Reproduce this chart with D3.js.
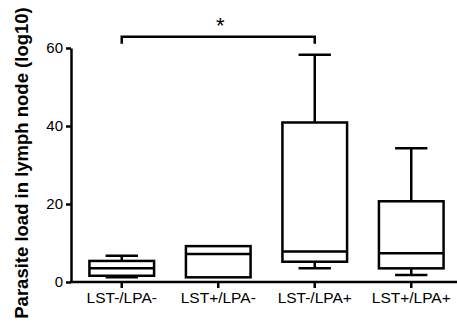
<!DOCTYPE html>
<html>
<head>
<meta charset="utf-8">
<script src="https://cdn.jsdelivr.net/npm/d3@7"></script>
<style>
  body { margin: 0; background: #fff; }
  svg { display: block; font-family: Arial, "Liberation Sans", sans-serif; }
</style>
</head>
<body>
<div id="chart"></div>
<script>
// groups and box stats
var groups = ['LST-/LPA-', 'LST+/LPA-', 'LST-/LPA+', 'LST+/LPA+'];
var mins    = [1.2, 1.2, 3.5, 1.8];
var q1s     = [1.6, 1.2, 5.2, 3.5];
var medians = [3.5, 7.2, 7.8, 7.35];
var q3s     = [5.4, 9.2, 40.9, 20.7];
var maxs    = [6.7, 9.2, 58.3, 34.3];
var yTicks  = [0, 20, 40, 60];

// significance bracket between group 1 and 3
var sigPairs = [{a: 'LST-/LPA-', b: 'LST-/LPA+', level: 62.9, label: '*'}];

var width = 457, height = 326;
var margin = {top: 48, right: 0, bottom: 44, left: 71};

var svg = d3.select('#chart').append('svg')
    .attr('width', width)
    .attr('height', height);

var data = groups.map((g, i) => ({
  group: g, min: mins[i], q1: q1s[i], median: medians[i], q3: q3s[i], max: maxs[i]
}));

var xScale = d3.scaleBand()
    .domain(groups)
    .range([margin.left + 2.5, width + 2.5])
    .paddingInner(0.33)
    .paddingOuter(0.165);

var yScale = d3.scaleLinear()
    .domain([0, 60])
    .range([height - margin.bottom, margin.top]);

var sw = 2.5;

// y axis
var yAxis = d3.axisLeft(yScale)
    .tickValues(yTicks)
    .tickSize(5)
    .tickSizeOuter(0)
    .tickPadding(3);

var gy = svg.append('g')
    .attr('class', 'y axis')
    .attr('transform', `translate(${margin.left},0)`)
    .call(yAxis);

gy.selectAll('text').style('font-size', '15px').attr('fill', '#000');

// x axis
var xAxis = d3.axisBottom(xScale)
    .tickSize(6)
    .tickSizeOuter(0)
    .tickPadding(4);

var gx = svg.append('g')
    .attr('class', 'x axis')
    .attr('transform', `translate(0,${yScale(0)})`)
    .call(xAxis);

// stretch baseline so it meets the y axis
gx.select('.domain').attr('d', `M${margin.left - sw / 2},0H${width}`);
gx.selectAll('text').style('font-size', '15.5px').attr('fill', '#000');

svg.selectAll('.axis path, .axis line')
    .attr('stroke', '#000')
    .attr('stroke-width', sw);

// boxes
var bw = xScale.bandwidth();
var box = svg.selectAll('.box')
    .data(data)
    .enter()
    .append('g')
    .attr('class', 'box')
    .attr('transform', d => `translate(${xScale(d.group)},0)`)
    .attr('stroke', '#000')
    .attr('stroke-width', sw)
    .attr('fill', 'none');

// whiskers
box.append('line')
    .attr('x1', bw / 2).attr('x2', bw / 2)
    .attr('y1', d => yScale(d.max)).attr('y2', d => yScale(d.q3));
box.append('line')
    .attr('x1', bw / 2).attr('x2', bw / 2)
    .attr('y1', d => yScale(d.q1)).attr('y2', d => yScale(d.min));

// caps (only where the whisker is visible)
box.filter(d => d.max > d.q3).append('line')
    .attr('x1', bw / 4).attr('x2', bw * 3 / 4)
    .attr('y1', d => yScale(d.max)).attr('y2', d => yScale(d.max));
box.filter(d => d.min < d.q1).append('line')
    .attr('x1', bw / 4).attr('x2', bw * 3 / 4)
    .attr('y1', d => yScale(d.min)).attr('y2', d => yScale(d.min));

box.append('rect')
    .attr('x', 0)
    .attr('width', bw)
    .attr('y', d => yScale(d.q3))
    .attr('height', d => yScale(d.q1) - yScale(d.q3))
    .attr('fill', '#fff');

box.append('line')
    .attr('x1', 0).attr('x2', bw)
    .attr('y1', d => yScale(d.median)).attr('y2', d => yScale(d.median));

// significance bracket
var sig = svg.selectAll('.sig')
    .data(sigPairs)
    .enter()
    .append('g')
    .attr('class', 'sig');

sig.append('path')
    .attr('fill', 'none')
    .attr('stroke', '#000')
    .attr('stroke-width', sw)
    .attr('d', d => {
      var x1 = xScale(d.a) + bw / 2, x2 = xScale(d.b) + bw / 2;
      var y = yScale(d.level);
      return `M${x1},${y + 7}V${y}H${x2}V${y + 7}`;
    });

sig.append('text')
    .attr('x', d => (xScale(d.a) + xScale(d.b) + bw) / 2 + 2)
    .attr('y', d => yScale(d.level) - 4)
    .attr('text-anchor', 'middle')
    .style('font-size', '22px')
    .text(d => d.label);

// y label
svg.append('text')
    .attr('transform', `translate(28,${163}) rotate(-90)`)
    .attr('text-anchor', 'middle')
    .style('font-size', '18.5px')
    .style('font-weight', 'bold')
    .text('Parasite load in lymph node (log10)');
</script>
</body>
</html>
